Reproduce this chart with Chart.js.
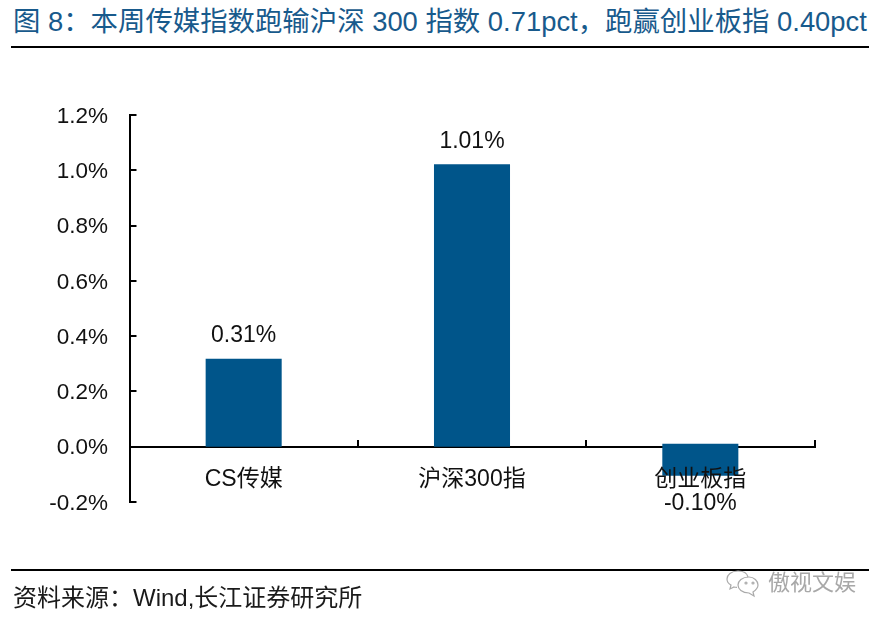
<!DOCTYPE html>
<html><head><meta charset="utf-8">
<style>
html,body{margin:0;padding:0;background:#fff;overflow:hidden}
#wrap{position:relative;width:883px;height:622px;font-family:"Liberation Sans","Noto Sans CJK SC",sans-serif}
#wrap canvas{position:absolute;left:0;top:0}
.t{position:absolute;white-space:nowrap;line-height:1}
#title{left:13px;top:8px;font-size:27.4px;color:#185a8c}
#source{left:13px;top:586px;font-size:24px;color:#1a1a1a}
#mark{left:768px;top:572px;font-size:22px;color:#a8a8a8}
.rule{position:absolute;background:#000}
#icon{position:absolute;left:724px;top:568px}
</style>
<script src="https://cdn.jsdelivr.net/npm/chart.js@4"></script>
</head><body>
<div id="wrap">
<div class="t" id="title">图 8&#xFF1A;本周传媒指数跑输沪深 300 指数 0.71pct&#xFF0C;跑赢创业板指 0.40pct</div>
<div class="rule" style="left:11px;top:46px;width:858px;height:2px"></div>
<canvas id="c" width="883" height="622"></canvas>
<div class="rule" style="left:11px;top:569px;width:858px;height:2px"></div>
<div class="t" id="source">资料来源&#xFF1A;Wind,长江证券研究所</div>
<svg id="icon" width="40" height="32" viewBox="0 0 40 32" fill="none" stroke="#aaa" stroke-width="1.2">
<path d="M14 3c-7 0-11 4-11 8 0 3 2 5 4 6l-1 4 4-2c1 .3 2 .4 3 .4"/><path d="M14 3c5 0 9 2 10 6"/>
<path d="M25 9c-7 0-11 4-11 8s4 8 11 8l5 3-1-4c3-2 5-4 5-7 0-4-4-8-9-8z"/>
<circle cx="22" cy="15" r="1"/><circle cx="29" cy="15" r="1"/></svg>
<div class="t" id="mark">傲视文娱</div>
</div>
<script>
const categories = ["CS传媒", "沪深300指", "创业板指"];
const barHigh = [0.318, 1.022, 0.011];
const barLow = [0, 0, -0.105];
const valueLabels = ["0.31%", "1.01%", "-0.10%"];
const yTickLabels = ["-0.2%", "0.0%", "0.2%", "0.4%", "0.6%", "0.8%", "1.0%", "1.2%"];
const yMin = -0.2, yMax = 1.2, yStep = 0.2;

const FONT = '"Liberation Sans","Noto Sans CJK SC",sans-serif';
const labelsPlugin = {
  id: 'valueLabels',
  afterDraw(chart) {
    const ctx = chart.ctx, els = chart.getDatasetMeta(0).data;
    ctx.save();
    ctx.font = '23px ' + FONT;
    ctx.fillStyle = '#111';
    ctx.textAlign = 'center';
    ctx.textBaseline = 'middle';
    els.forEach((el, i) => {
      const below = barLow[i] < 0;
      const y = below ? chart.scales.y.getPixelForValue(barLow[i]) + 28 : chart.scales.y.getPixelForValue(barHigh[i]) - 23;
      ctx.fillText(valueLabels[i], el.x, y);
    });
    ctx.restore();
  }
};
new Chart(document.getElementById('c'), {
  type: 'bar',
  data: { labels: categories, datasets: [{
    data: categories.map((_, i) => [barLow[i], barHigh[i]]),
    backgroundColor: '#00558a', borderWidth: 0, borderSkipped: false,
    categoryPercentage: 1, barPercentage: 0.333
  }]},
  plugins: [labelsPlugin],
  options: {
    responsive: false, animation: false,
    layout: { padding: { left: 0, right: 68.5, top: 115, bottom: 120 } },
    plugins: { legend: { display: false }, title: { display: false }, tooltip: { enabled: false } },
    scales: {
      x: {
        position: { y: 0 },
        grid: { display: true, drawOnChartArea: false, drawTicks: true, tickLength: -8, offset: true, color: '#000', lineWidth: 2 },
        border: { display: true, color: '#000', width: 2 },
        ticks: { z: 1, color: '#111', font: { size: 23, family: FONT }, padding: 27, maxRotation: 0, autoSkip: false },
        afterFit(s) { s.height = 0; }
      },
      y: {
        min: yMin, max: yMax,
        grid: { display: true, drawOnChartArea: false, drawTicks: true, tickLength: -7, color: '#000', lineWidth: 2 },
        border: { display: true, color: '#000', width: 2 },
        ticks: { stepSize: yStep, color: '#111', font: { size: 22.5, family: FONT }, padding: 28.5, labelOffset: 1.5,
          callback: (v, i) => yTickLabels[i] },
        afterFit(s) { s.width = 129.5; }
      }
    }
  }
});
</script>
</body></html>
